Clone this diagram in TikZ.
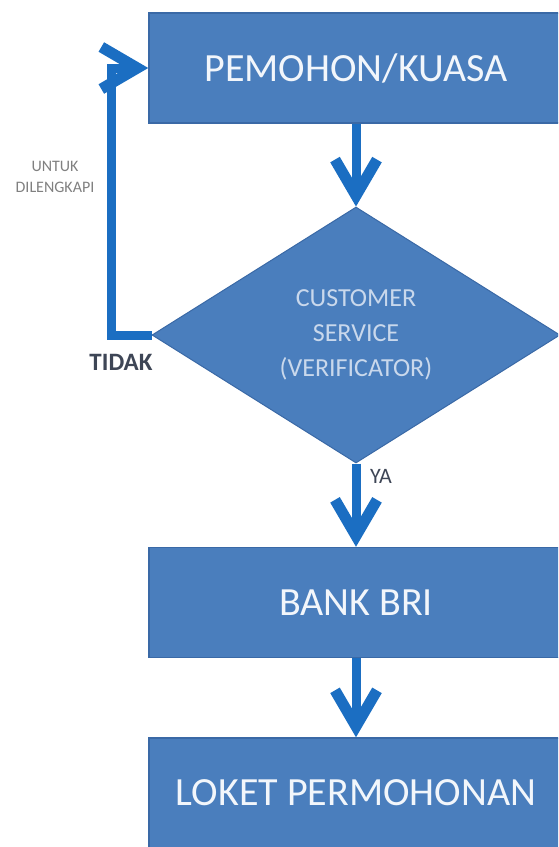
\documentclass[tikz,border=0pt]{standalone}
\usepackage{fontspec}
\setmainfont{Carlito}
\usetikzlibrary{shapes.geometric,arrows.meta}
\definecolor{boxfill}{HTML}{4A7EBD}
\definecolor{boxline}{HTML}{3A69A6}
\definecolor{arrblue}{HTML}{1B6EC2}
\definecolor{diatext}{HTML}{C9D8EC}
\definecolor{boxtext}{HTML}{F2F6FB}
\definecolor{lblgray}{HTML}{808080}
\definecolor{lbldark}{HTML}{3E4656}
\begin{document}
\begin{tikzpicture}[x=1pt,y=-1pt,
  procbox/.style={draw=boxline,line width=1.5pt,fill=boxfill,rectangle,
    minimum width=414pt,minimum height=110pt,inner sep=0pt,
    text=boxtext,font=\fontsize{40}{44}\selectfont},
  decbox/.style={draw=boxline,line width=1pt,fill=boxfill,diamond,
    minimum width=408pt,minimum height=256pt,inner sep=0pt,
    text=diatext,align=center,font=\fontsize{26}{35}\selectfont},
  flowarrow/.style={draw=arrblue,line width=9pt,line join=miter,
    -{Straight Barb[length=36pt,width=42pt,line width=11pt]}},
  ]
\useasboundingbox (0,0) rectangle (558,847);
\begin{scope}
\clip (0,0) rectangle (558,847);
\node[procbox] (top) at (356,68) {PEMOHON/KUASA};
\node[decbox] (dia) at (356,335) {CUSTOMER\\SERVICE\\(VERIFICATOR)};
\node[procbox] (bank) at (356,602.5) {BANK BRI};
\node[procbox] (loket) at (356,793) {LOKET PERMOHONAN};

\draw[flowarrow] (top.south) -- (dia.north);
\draw[flowarrow] (dia.south) -- (bank.north);
\draw[flowarrow] (bank.south) -- (loket.north);
\coordinate (loopc) at (111,335);
\draw[flowarrow] (dia.west) -- (loopc) |- (top.west);

\node[text=lblgray,align=center,font=\fontsize{16}{21}\selectfont] (lblu) at (55,177) {UNTUK\\DILENGKAPI};
\node[text=lbldark,font=\bfseries\fontsize{25}{28}\selectfont] (lblt) at (121,362) {TIDAK};
\node[text=lbldark,font=\fontsize{22}{24}\selectfont] (lbly) at (381,476) {YA};
\end{scope}
\end{tikzpicture}
\end{document}
